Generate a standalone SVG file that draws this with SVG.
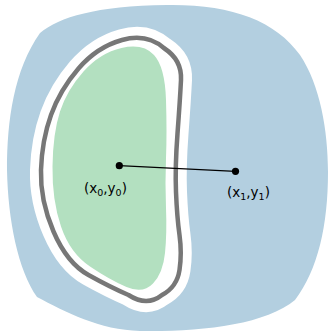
<svg xmlns="http://www.w3.org/2000/svg" width="329" height="333" viewBox="0 0 329 333">
<style>
.lbl{font-family:"DejaVu Sans",sans-serif;font-size:13.5px;fill:#000}
.sub{font-size:9.5px}
</style>
<rect width="329" height="333" fill="#fff"/>
<g id="outer">
<path d="M 40,33 C 60,17 95,6 167,5 C 230,4 275,20 300,55 C 320,85 328,130 328,172 C 328,225 318,270 295,300 C 265,325 200,332 140,331 C 100,330 65,312 37,297 C 18,270 8,220 7,170 C 7,120 14,70 40,33 Z" fill="#b3cfe0"/>
</g>
<g id="boundary">
<path d="M 164.5,48.5 Q 182,60 181,80 Q 180,100 177.5,133.5 Q 175,167 176,192 Q 177,217 179.5,235 Q 182,253 179.5,270 Q 177,287 162,295 Q 147,307 128.5,295 Q 110,287 88.5,275 Q 67,263 53.5,231.5 Q 40,200 41,170 Q 42,140 51,115 Q 60,90 78.5,68.5 Q 97,47 122,40 Q 147,33 164.5,48.5 Z" fill="#fff" stroke="#fff" stroke-width="22" stroke-linejoin="round"/>
<path d="M 164.5,48.5 Q 182,60 181,80 Q 180,100 177.5,133.5 Q 175,167 176,192 Q 177,217 179.5,235 Q 182,253 179.5,270 Q 177,287 162,295 Q 147,307 128.5,295 Q 110,287 88.5,275 Q 67,263 53.5,231.5 Q 40,200 41,170 Q 42,140 51,115 Q 60,90 78.5,68.5 Q 97,47 122,40 Q 147,33 164.5,48.5 Z" fill="none" stroke="#777" stroke-width="4.5" stroke-linejoin="round"/>
</g>
<g id="inner">
<path d="M 154,55 Q 165,67 166,100 Q 167,133 166,158 Q 165,183 166,208 Q 167,233 165,253 Q 163,273 153,283.5 Q 143,294 126.5,287 Q 110,280 90,266.5 Q 70,253 61,226.5 Q 52,200 52.5,166.5 Q 53,133 60,111.5 Q 67,90 83.5,71.5 Q 100,53 121.5,48 Q 143,43 154,55 Z" fill="#b3e0c0"/>
</g>
<g id="connectors">
<line x1="119.3" y1="165.7" x2="235.5" y2="171.3" stroke="#000" stroke-width="1.3"/>
</g>
<g id="p0">
<circle cx="119.3" cy="165.7" r="3.6" fill="#000"/>
<text class="lbl" x="84" y="193">(x<tspan class="sub" dy="3">0</tspan><tspan dy="-3">,y</tspan><tspan class="sub" dy="3">0</tspan><tspan dy="-3">)</tspan></text>
</g>
<g id="p1">
<circle cx="235.5" cy="171.3" r="3.6" fill="#000"/>
<text class="lbl" x="227" y="197">(x<tspan class="sub" dy="3">1</tspan><tspan dy="-3">,y</tspan><tspan class="sub" dy="3">1</tspan><tspan dy="-3">)</tspan></text>
</g>
</svg>
